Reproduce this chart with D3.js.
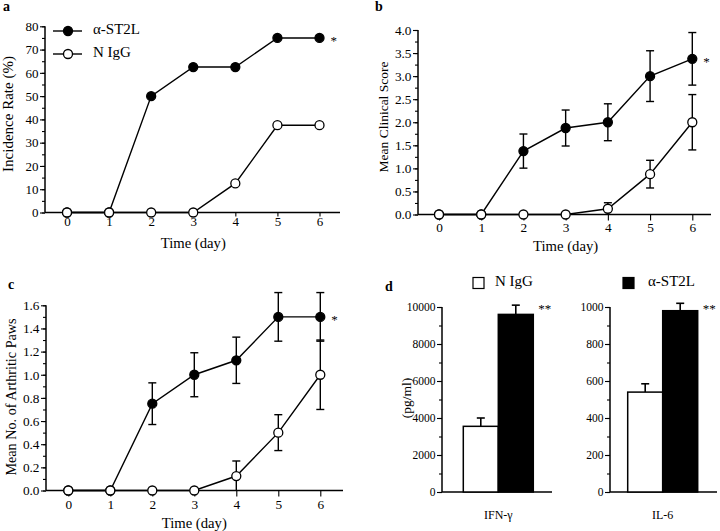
<!DOCTYPE html>
<html>
<head>
<meta charset="utf-8">
<script src="https://cdn.jsdelivr.net/npm/d3@7"></script>
<style>
  html, body { margin: 0; padding: 0; background: #fff; }
  svg text { font-family: "Liberation Serif", "Times New Roman", serif; fill: #000; }
</style>
</head>
<body>
<svg id="chart" width="720" height="531"></svg>
<script>
// ---------------- DATA ----------------
const days = [0, 1, 2, 3, 4, 5, 6];
const seriesNames = ["α-ST2L", "N IgG"];

// Panel a: incidence rate (%)
const incidenceST2L = [0, 0, 50, 62.5, 62.5, 75, 75];
const incidenceNIgG = [0, 0, 0, 0, 12.5, 37.5, 37.5];

// Panel b: mean clinical score (mean, SEM)
const scoreST2L    = [0, 0, 1.375, 1.875, 2.0, 3.0, 3.375];
const scoreST2LErr = [0, 0, 0.37, 0.39, 0.40, 0.55, 0.57];
const scoreNIgG    = [0, 0, 0, 0, 0.125, 0.875, 2.0];
const scoreNIgGErr = [0, 0, 0, 0, 0.13, 0.30, 0.60];

// Panel c: mean no. of arthritic paws (mean, SEM)
const pawsST2L    = [0, 0, 0.75, 1.0, 1.125, 1.5, 1.5];
const pawsST2LErr = [0, 0, 0.18, 0.19, 0.20, 0.21, 0.21];
const pawsNIgG    = [0, 0, 0, 0, 0.125, 0.5, 1.0];
const pawsNIgGErr = [0, 0, 0, 0, 0.13, 0.155, 0.30];

// Panel d: cytokines (pg/ml)
const groups = ["N IgG", "α-ST2L"];
const cytokines = ["IFN-γ", "IL-6"];
const cytoNIgG    = [3550, 540];
const cytoNIgGErr = [450, 45];
const cytoST2L    = [9600, 980];
const cytoST2LErr = [500, 40];

// ---------------- DRAW ----------------
const svg = d3.select("#chart");
const INK = "#000";

function yAxes(g, y, ax, maxV, major, minor, fmt, fs) {
  const majors = d3.range(0, maxV + major / 1000, major);
  const minors = d3.range(0, maxV + minor / 1000, minor);
  const gMin = g.append("g").attr("transform", `translate(${ax},0)`)
    .call(d3.axisLeft(y).tickValues(minors).tickSize(3).tickFormat(""));
  gMin.select(".domain").remove();
  const gMaj = g.append("g").attr("transform", `translate(${ax},0)`)
    .call(d3.axisLeft(y).tickValues(majors).tickSize(5).tickPadding(1.5).tickFormat(fmt));
  gMaj.select(".domain").remove();
  [gMin, gMaj].forEach(a => a.selectAll("line").attr("stroke", INK).attr("stroke-width", 1.1));
  gMaj.selectAll("text").attr("font-size", fs).attr("font-family", "Liberation Serif").style("fill", INK);
  g.append("line").attr("x1", ax).attr("x2", ax)
    .attr("y1", y(maxV)).attr("y2", y(0))
    .attr("stroke", INK).attr("stroke-width", 1.5);
}

function linePanel(cfg) {
  const g = svg.append("g");
  const x = d3.scaleLinear().domain([0, 6]).range([cfg.x0, cfg.x6]);
  const y = d3.scaleLinear().domain([0, cfg.yMax]).range([cfg.yBottom, cfg.yTop]);

  yAxes(g, y, cfg.yAxisX, cfg.yMax, cfg.major, cfg.minor, cfg.fmt, cfg.tickFs);

  const gx = g.append("g").attr("transform", `translate(0,${cfg.yBottom})`)
    .call(d3.axisBottom(x).tickValues(days).tickSize(cfg.xTick).tickPadding(cfg.xPad).tickFormat(d3.format("d")));
  gx.select(".domain").remove();
  gx.selectAll("line").attr("stroke", INK).attr("stroke-width", 1.1);
  gx.selectAll("text").attr("font-size", cfg.tickFs).attr("font-family", "Liberation Serif").style("fill", INK);
  g.append("line").attr("x1", cfg.yAxisX).attr("x2", cfg.xEnd)
    .attr("y1", cfg.yBottom).attr("y2", cfg.yBottom)
    .attr("stroke", INK).attr("stroke-width", 1.5);

  g.append("text").attr("x", (cfg.x0 + cfg.x6) / 2).attr("y", cfg.xTitleY)
    .attr("text-anchor", "middle").attr("font-size", 14.7).text("Time (day)");
  g.append("text").attr("transform", `translate(${cfg.yTitleX},${cfg.yTitleY}) rotate(-90)`)
    .attr("text-anchor", "middle").attr("dominant-baseline", "middle")
    .attr("font-size", cfg.yTitleFs).text(cfg.yTitle);
  g.append("text").attr("x", cfg.letterX).attr("y", cfg.letterY)
    .attr("font-size", 14).attr("font-weight", "bold").text(cfg.letter);

  const line = d3.line().x((d, i) => x(days[i])).y(d => y(d));

  cfg.series.forEach(s => {
    if (s.err) {
      s.vals.forEach((v, i) => {
        const e = s.err[i];
        if (!e) return;
        const lo = Math.max(0, v - e), hi = v + e;
        const cx = x(days[i]);
        g.append("line").attr("x1", cx).attr("x2", cx).attr("y1", y(lo)).attr("y2", y(hi))
          .attr("stroke", INK).attr("stroke-width", 1.4);
        g.append("line").attr("x1", cx - 4).attr("x2", cx + 4).attr("y1", y(hi)).attr("y2", y(hi))
          .attr("stroke", INK).attr("stroke-width", 1.4);
        if (v - e > 0)
          g.append("line").attr("x1", cx - 4).attr("x2", cx + 4).attr("y1", y(lo)).attr("y2", y(lo))
            .attr("stroke", INK).attr("stroke-width", 1.4);
      });
    }
    g.append("path").datum(s.vals).attr("d", line)
      .attr("fill", "none").attr("stroke", INK).attr("stroke-width", 1.4);
  });
  cfg.series.forEach(s => {
    g.selectAll(null).data(s.vals).enter().append("circle")
      .attr("cx", (d, i) => x(days[i])).attr("cy", d => y(d)).attr("r", 4.5)
      .attr("fill", s.filled ? INK : "#fff").attr("stroke", INK).attr("stroke-width", 1.3);
  });

  const last = cfg.series[0].vals[6];
  g.append("text").attr("x", x(6) + 11).attr("y", y(last) + 7)
    .attr("font-size", 13).text("*");
  return { g, x, y };
}

// Panel a
const pa = linePanel({
  x0: 67, x6: 319.5, xEnd: 340, yAxisX: 45, yBottom: 212.5, yTop: 26.3, yMax: 80,
  major: 10, minor: 5, fmt: d3.format("d"), tickFs: 13, xTick: 4, xPad: 0,
  yTitle: "Incidence Rate (%)", yTitleX: 10, yTitleY: 114, yTitleFs: 15, xTitleY: 247.5,
  letter: "a", letterX: 3, letterY: 11,
  series: [
    { vals: incidenceST2L, filled: true },
    { vals: incidenceNIgG, filled: false }
  ]
});
const legItems = [{ name: seriesNames[0], filled: true, yy: 31 }, { name: seriesNames[1], filled: false, yy: 54 }];
legItems.forEach(it => {
  pa.g.append("line").attr("x1", 53).attr("x2", 82).attr("y1", it.yy).attr("y2", it.yy)
    .attr("stroke", INK).attr("stroke-width", 1.4);
  pa.g.append("circle").attr("cx", 68).attr("cy", it.yy).attr("r", 4.5)
    .attr("fill", it.filled ? INK : "#fff").attr("stroke", INK).attr("stroke-width", 1.3);
  pa.g.append("text").attr("x", 93).attr("y", it.yy).attr("dominant-baseline", "middle")
    .attr("font-size", 15).text(it.name);
});

// Panel b
linePanel({
  x0: 439, x6: 692.3, xEnd: 711, yAxisX: 418, yBottom: 214.5, yTop: 30, yMax: 4,
  major: 0.5, minor: 0.25, fmt: d3.format(".1f"), tickFs: 13.3, xTick: 6, xPad: 2,
  yTitle: "Mean Clinical Score", yTitleX: 385, yTitleY: 117, yTitleFs: 13.5, xTitleY: 250.5,
  letter: "b", letterX: 375, letterY: 11,
  series: [
    { vals: scoreST2L, err: scoreST2LErr, filled: true },
    { vals: scoreNIgG, err: scoreNIgGErr, filled: false }
  ]
});

// Panel c
linePanel({
  x0: 68.3, x6: 320.3, xEnd: 343, yAxisX: 46, yBottom: 490.5, yTop: 305.3, yMax: 1.6,
  major: 0.2, minor: 0.1, fmt: d3.format(".1f"), tickFs: 13.3, xTick: 6, xPad: 3,
  yTitle: "Mean No. of Arthritic Paws", yTitleX: 13, yTitleY: 397, yTitleFs: 14.2, xTitleY: 527.5,
  letter: "c", letterX: 8, letterY: 289,
  series: [
    { vals: pawsST2L, err: pawsST2LErr, filled: true },
    { vals: pawsNIgG, err: pawsNIgGErr, filled: false }
  ]
});

// Panel d
const gd = svg.append("g");
gd.append("text").attr("x", 385).attr("y", 291).attr("font-size", 14).attr("font-weight", "bold").text("d");
gd.append("text").attr("transform", "translate(408,398) rotate(-90)")
  .attr("text-anchor", "middle").attr("dominant-baseline", "middle").attr("font-size", 13.5).text("(pg/ml)");

const barPanels = [
  { yAxisX: 442, bandL: 463.3, bandR: 533.3, end: 552, yMax: 10000, major: 2000, minor: 1000 },
  { yAxisX: 610, bandL: 627.7, bandR: 697.7, end: 717, yMax: 1000, major: 200, minor: 100 }
];
barPanels.forEach((bp, k) => {
  const y = d3.scaleLinear().domain([0, bp.yMax]).range([492, 307]);
  const xb = d3.scaleBand().domain(groups).range([bp.bandL, bp.bandR]).padding(0);
  yAxes(gd, y, bp.yAxisX, bp.yMax, bp.major, bp.minor, d3.format("d"), 11.5);
  gd.append("line").attr("x1", bp.yAxisX).attr("x2", bp.end).attr("y1", 492).attr("y2", 492)
    .attr("stroke", INK).attr("stroke-width", 1.5);
  const vals = [cytoNIgG[k], cytoST2L[k]];
  const errs = [cytoNIgGErr[k], cytoST2LErr[k]];
  groups.forEach((gname, j) => {
    const cx = xb(gname) + xb.bandwidth() / 2;
    gd.append("line").attr("x1", cx).attr("x2", cx).attr("y1", y(vals[j])).attr("y2", y(vals[j] + errs[j]))
      .attr("stroke", INK).attr("stroke-width", 1.6);
    gd.append("line").attr("x1", cx - 4).attr("x2", cx + 4)
      .attr("y1", y(vals[j] + errs[j])).attr("y2", y(vals[j] + errs[j]))
      .attr("stroke", INK).attr("stroke-width", 1.6);
    gd.append("rect").attr("x", xb(gname)).attr("y", y(vals[j]))
      .attr("width", xb.bandwidth()).attr("height", y(0) - y(vals[j]))
      .attr("fill", j === 0 ? "#fff" : INK).attr("stroke", INK).attr("stroke-width", 1.5);
  });
  gd.append("text").attr("x", (bp.bandL + bp.bandR) / 2).attr("y", 519)
    .attr("text-anchor", "middle").attr("font-size", 12).text(cytokines[k]);
  gd.append("text").attr("x", bp.bandR + 5).attr("y", 313).attr("font-size", 13).text("**");
});
[{ name: groups[0], fill: "#fff", sx: 473, tx: 495 }, { name: groups[1], fill: INK, sx: 623, tx: 648 }].forEach(it => {
  gd.append("rect").attr("x", it.sx).attr("y", 277.5).attr("width", 11).attr("height", 11)
    .attr("fill", it.fill).attr("stroke", INK).attr("stroke-width", 1.2);
  gd.append("text").attr("x", it.tx).attr("y", 283).attr("dominant-baseline", "middle")
    .attr("font-size", 15).text(it.name);
});
</script>
</body>
</html>
